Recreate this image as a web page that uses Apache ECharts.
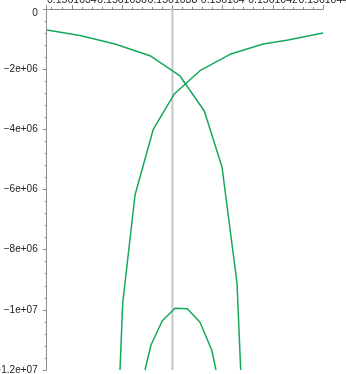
<!DOCTYPE html>
<html>
<head>
<meta charset="utf-8">
<script src="https://cdn.jsdelivr.net/npm/echarts@6/dist/echarts.min.js"></script>
<style>html,body{margin:0;padding:0;background:#fff}#c{width:346px;height:374px}</style>
</head>
<body>
<div id="c"></div>
<script>
// Curve A (falls to the right)
var curveAx = [0.1561033012, 0.1561034324, 0.1561035716, 0.1561037108, 0.1561038301, 0.1561039268, 0.1561039972, 0.1561040568, 0.1561040715];
var curveAy = [-0.70e6, -0.88e6, -1.163e6, -1.552e6, -2.227e6, -3.391e6, -5.252e6, -9.108e6, -1.2e7];
// Curve B (falls to the left)
var curveBx = [0.1561043989, 0.1561042597, 0.1561041614, 0.1561040290, 0.1561039097, 0.1561038063, 0.1561037239, 0.1561036512, 0.1561036023, 0.1561035915];
var curveBy = [-0.80e6, -1.030e6, -1.163e6, -1.506e6, -2.051e6, -2.835e6, -3.999e6, -6.183e6, -9.773e6, -1.2e7];
// Curve C (arch at the bottom)
var curveCx = [0.1561036909, 0.1561037148, 0.1561037597, 0.1561038102, 0.1561038592, 0.1561039097, 0.1561039562, 0.1561039733];
var curveCy = [-1.2e7, -1.1169e7, -1.0361e7, -0.9949e7, -0.9962e7, -1.0415e7, -1.1335e7, -1.2e7];
// Vertical reference line
var refX = 0.1561038;
// Axis ranges
var xMin = 0.1561033, xMax = 0.1561044;
var yMin = -1.2e7, yMax = 0, yStep = 2e6;

function pairs(xs, ys) { return xs.map(function (x, i) { return [x, ys[i]]; }); }
function yFmt(v) {
  if (v === 0) return '{z|0}';
  var p = v.toExponential().split('e');
  var e = parseInt(p[1], 10);
  return p[0].replace('-', '\u2212') + 'e' + (e < 0 ? '-' : '+') + String(Math.abs(e)).padStart(2, '0');
}
var green = '#16a85a';
var axisCol = '#8c8c8c';
var font = 'Liberation Sans';
var chart = echarts.init(document.getElementById('c'), null, { renderer: 'canvas' });
chart.setOption({
  animation: false,
  backgroundColor: '#fff',
  grid: { left: 46.7, right: 22.7, top: 9, bottom: 4, containLabel: false, outerBoundsMode: 'none' },
  xAxis: {
    type: 'value', position: 'top', min: xMin, max: xMax, splitNumber: 5,
    axisLine: { show: true, onZero: false, lineStyle: { color: axisCol, width: 1 } },
    axisTick: { show: true, inside: false, length: 4, lineStyle: { color: axisCol } },
    minorTick: { show: true, splitNumber: 5, length: 2, lineStyle: { color: axisCol } },
    splitLine: { show: false },
    axisLabel: { showMinLabel: false, hideOverlap: false, margin: 3, fontSize: 10.5, fontFamily: font, color: '#222' }
  },
  yAxis: {
    type: 'value', min: yMin, max: yMax, interval: yStep,
    axisLine: { show: true, onZero: false, lineStyle: { color: axisCol, width: 1 } },
    axisTick: { show: true, inside: false, length: 4, lineStyle: { color: axisCol } },
    minorTick: { show: true, splitNumber: 5, length: 2, lineStyle: { color: axisCol } },
    splitLine: { show: false },
    axisLabel: {
      margin: 9, fontSize: 10, fontFamily: font, color: '#222', formatter: yFmt,
      rich: { z: { fontSize: 10, fontFamily: font, color: '#222', padding: [9, 0, 0, 0] } }
    }
  },
  series: [
    {
      type: 'line', data: [[refX, yMax], [refX, yMin]], symbol: 'none', silent: true, z: 1,
      lineStyle: { color: '#c6c6c6', width: 2 }
    },
    { type: 'line', data: pairs(curveAx, curveAy), symbol: 'none', z: 3, lineStyle: { color: green, width: 1.5 } },
    { type: 'line', data: pairs(curveBx, curveBy), symbol: 'none', z: 3, lineStyle: { color: green, width: 1.5 } },
    { type: 'line', data: pairs(curveCx, curveCy), symbol: 'none', z: 3, lineStyle: { color: green, width: 1.5 } }
  ]
});
</script>
</body>
</html>
